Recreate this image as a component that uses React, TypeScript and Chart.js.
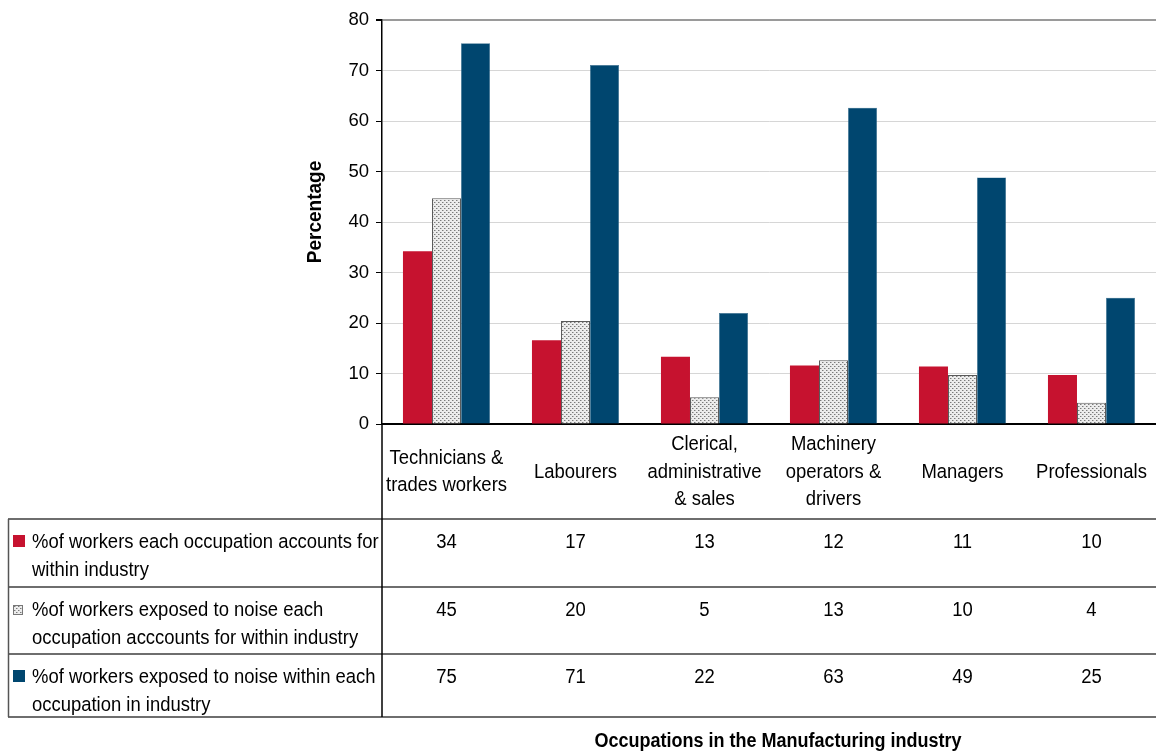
import React, { useEffect, useRef } from "react";
import { Chart, registerables } from "chart.js";

Chart.register(...registerables);

// ---------- data ----------
const categories: string[][] = [
  ["Technicians &", "trades workers"],
  ["Labourers"],
  ["Clerical,", "administrative", "& sales"],
  ["Machinery", "operators &", "drivers"],
  ["Managers"],
  ["Professionals"],
];

const seriesNames: string[][] = [
  ["%of workers each occupation accounts for", "within industry"],
  ["%of workers exposed to noise each", "occupation acccounts for within industry"],
  ["%of workers exposed to noise within each", "occupation in industry"],
];

const shareOfWorkers = [34.2, 16.6, 13.3, 11.6, 11.4, 9.7];
const shareOfExposed = [44.7, 20.4, 5.3, 12.6, 9.7, 4.2];
const exposedWithinOccupation = [75.4, 71.1, 22.0, 62.6, 48.8, 25.0];

const yTitle = "Percentage";
const xTitle = "Occupations in the Manufacturing industry";

// ---------- styles ----------
const RED = "#C6122F";
const BLUE = "#00466F";
const FONT = "'Liberation Sans', Arial, sans-serif";

function makeDotPattern(): CanvasPattern | string {
  const c = document.createElement("canvas");
  c.width = 4;
  c.height = 4;
  const g = c.getContext("2d");
  if (!g) return "#dddddd";
  g.fillStyle = "#ececec";
  g.fillRect(0, 0, 4, 4);
  g.fillStyle = "#7a7a7a";
  g.fillRect(0, 0, 1, 1);
  g.fillRect(2, 2, 1, 1);
  g.fillStyle = "#b8b8b8";
  g.fillRect(1, 0, 1, 1);
  g.fillRect(3, 2, 1, 1);
  return g.createPattern(c, "repeat") || "#dddddd";
}

function txt(
  ctx: CanvasRenderingContext2D,
  s: string,
  x: number,
  y: number,
  align: CanvasTextAlign,
  font: string,
  sx: number,
  rot = 0
) {
  ctx.save();
  ctx.translate(x, y);
  if (rot) ctx.rotate(rot);
  ctx.scale(sx, 1);
  ctx.font = font;
  ctx.textAlign = align;
  ctx.textBaseline = "alphabetic";
  ctx.fillStyle = "#000";
  ctx.fillText(s, 0, 0);
  ctx.restore();
}

const tablePlugin = {
  id: "dataTable",
  afterDraw(chart: any) {
    const ctx: CanvasRenderingContext2D = chart.ctx;
    const xs = chart.scales.x;
    const area = chart.chartArea;
    const pattern = chart.$dotPattern;
    const tableLeft = 8;
    const right = chart.width;
    const rowLines = [519, 587, 654, 717];
    const series = [shareOfWorkers, shareOfExposed, exposedWithinOccupation];
    const cellFont = `20.5px ${FONT}`;
    const SX = 0.9;

    ctx.save();
    // horizontal rules
    ctx.strokeStyle = "#6e6e6e";
    ctx.lineWidth = 2;
    rowLines.forEach((y) => {
      ctx.beginPath();
      ctx.moveTo(tableLeft, y);
      ctx.lineTo(right, y);
      ctx.stroke();
    });
    // left border
    ctx.strokeStyle = "#555";
    ctx.lineWidth = 1.5;
    ctx.beginPath();
    ctx.moveTo(tableLeft + 0.5, rowLines[0]);
    ctx.lineTo(tableLeft + 0.5, rowLines[3]);
    ctx.stroke();
    // axis continuation
    ctx.strokeStyle = "#000";
    ctx.lineWidth = 1.5;
    ctx.beginPath();
    ctx.moveTo(area.left, area.bottom);
    ctx.lineTo(area.left, rowLines[3]);
    ctx.stroke();

    // category header labels
    const lh = 27.5;
    categories.forEach((lines, i) => {
      const cx = xs.getPixelForValue(i);
      lines.forEach((ln, k) => {
        const by = 477.5 + (k - (lines.length - 1) / 2) * lh;
        txt(ctx, ln, cx, by, "center", cellFont, SX);
      });
    });

    // rows
    series.forEach((vals, r) => {
      const top = rowLines[r];
      const base = top + 29;
      // legend key
      if (r === 1) {
        ctx.fillStyle = pattern;
        ctx.fillRect(13, base - 11, 10, 10);
        ctx.strokeStyle = "#777";
        ctx.lineWidth = 1;
        ctx.strokeRect(13.5, base - 10.5, 9, 9);
      } else {
        ctx.fillStyle = r === 0 ? RED : BLUE;
        ctx.fillRect(13, base - 13, 12, 12);
      }
      seriesNames[r].forEach((ln, k) => {
        txt(ctx, ln, 32, base + k * 28, "left", cellFont, SX);
      });
      vals.forEach((v, i) => {
        txt(ctx, String(Math.round(v)), xs.getPixelForValue(i), base, "center", cellFont, SX);
      });
    });

    // axis titles
    txt(ctx, yTitle, 321, (area.top + area.bottom) / 2 - 10, "center", `bold 20px ${FONT}`, 0.95, -Math.PI / 2);
    txt(ctx, xTitle, 778, 747, "center", `bold 20px ${FONT}`, 0.9);
    ctx.restore();
  },
};

export default function App() {
  const ref = useRef<HTMLCanvasElement | null>(null);

  useEffect(() => {
    document.body.style.margin = "0";
    document.body.style.overflow = "hidden";
    const canvas = ref.current;
    if (!canvas) return;
    const pattern = makeDotPattern();
    const chart: any = new Chart(canvas, {
      type: "bar",
      data: {
        labels: categories.map((c) => c.join(" ")),
        datasets: [
          {
            label: seriesNames[0].join(" "),
            data: shareOfWorkers,
            backgroundColor: RED,
            borderWidth: 0,
          },
          {
            label: seriesNames[1].join(" "),
            data: shareOfExposed,
            backgroundColor: pattern as any,
            borderColor: "#5a5a5a",
            borderWidth: 1,
          },
          {
            label: seriesNames[2].join(" "),
            data: exposedWithinOccupation,
            backgroundColor: BLUE,
            borderColor: "#3b6f90",
            borderWidth: 0.5,
          },
        ],
      },
      options: {
        responsive: false,
        animation: false,
        events: [],
        layout: { padding: { top: 20, left: 0, right: 0, bottom: 0 } },
        datasets: {
          bar: { categoryPercentage: 0.675, barPercentage: 1 },
        },
        plugins: {
          legend: { display: false },
          tooltip: { enabled: false },
          title: { display: false },
        },
        scales: {
          x: {
            grid: { display: false, drawTicks: false },
            border: { display: true, color: "#000", width: 2 },
            ticks: { display: false },
            afterFit: (s: any) => {
              s.height = 327;
            },
          },
          y: {
            min: 0,
            max: 80,
            ticks: {
              stepSize: 10,
              color: "#000",
              font: { family: FONT, size: 18.5 },
              padding: 7,
            },
            grid: {
              color: (c: any) => (c.tick && c.tick.value === 80 ? "#9a9a9a" : "#d6d6d6"),
              lineWidth: (c: any) => (c.tick && c.tick.value === 80 ? 2 : 1),
              tickColor: "#000",
              tickLength: 6,
            },
            border: { display: true, color: "#000", width: 1.5 },
            afterFit: (s: any) => {
              s.width = 382;
            },
          },
        },
      },
      plugins: [tablePlugin],
    } as any);
    chart.$dotPattern = pattern;
    chart.draw();
    return () => chart.destroy();
  }, []);

  return <canvas ref={ref} width={1156} height={751} style={{ display: "block" }} />;
}
